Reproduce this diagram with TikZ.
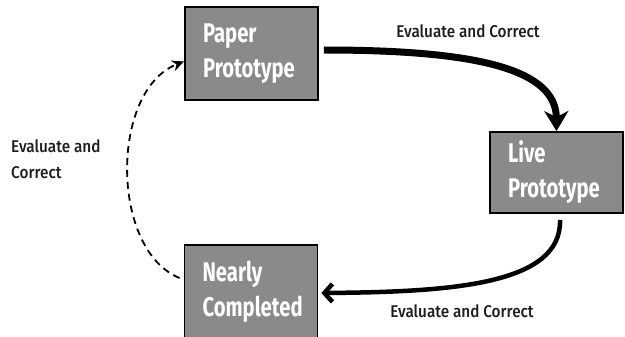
\documentclass[tikz,border=0pt]{standalone}
\usepackage{fontspec}
\setmainfont{Fira Sans}[FakeStretch=0.85]
\newfontfamily\boxfont{Fira Sans}[FakeStretch=0.75]
\newfontfamily\lblfont{Fira Sans Medium}[FakeStretch=0.9]
\usetikzlibrary{arrows.meta}
\definecolor{boxgray}{HTML}{8A8A8A}
\definecolor{ink}{HTML}{1E1E1E}
\begin{document}
\begin{tikzpicture}[x=1pt,y=-1pt,
  box/.style={draw=black, line width=1.8pt, fill=boxgray, minimum width=133pt,
    minimum height=93pt, inner sep=0pt, text=white, text width=97pt, align=left,
    font=\boxfont\bfseries\fontsize{27}{35}\selectfont},
  lbl/.style={text=ink, inner sep=0pt, font=\lblfont\fontsize{17}{26}\selectfont},
  flow/.style={draw=black}]
\useasboundingbox[fill=white] (0,0) rectangle (625,337);
\node[box] (paper) at (251.5,53.5) {Paper\\Prototype};
\node[box, minimum height=81pt] (live) at (556.5,172.5) {Live\\Prototype};
\node[box] (nearly) at (251,291.5) {Nearly\\Completed};
\draw[flow, line width=7pt, -{Stealth[length=20pt,width=24pt,inset=6pt]}]
  ([shift={(5,-3.5)}]paper.east) .. controls (480,50) and (556,70) .. (live.north);
\draw[flow, line width=4.5pt, -{Straight Barb[length=8pt,width=18pt]}]
  ([shift={(3.5,6)}]live.south) .. controls (562,285) and (450,292) .. ([shift={(3,1.5)}]nearly.east);
\draw[flow, line width=1.8pt, dash pattern=on 7pt off 5pt, -{Stealth[length=12pt,width=11pt]}]
  ([shift={(-4,-13.5)}]nearly.west) .. controls (110,250) and (110,90) .. ([shift={(0,8)}]paper.west);
\node[lbl, anchor=base] (l1) at (468,38) {Evaluate and Correct};
\node[lbl, anchor=base] (l2) at (462,317) {Evaluate and Correct};
\node[lbl, anchor=north west, align=left] (l3) at (11,139) {Evaluate and\\Correct};
\end{tikzpicture}
\end{document}
